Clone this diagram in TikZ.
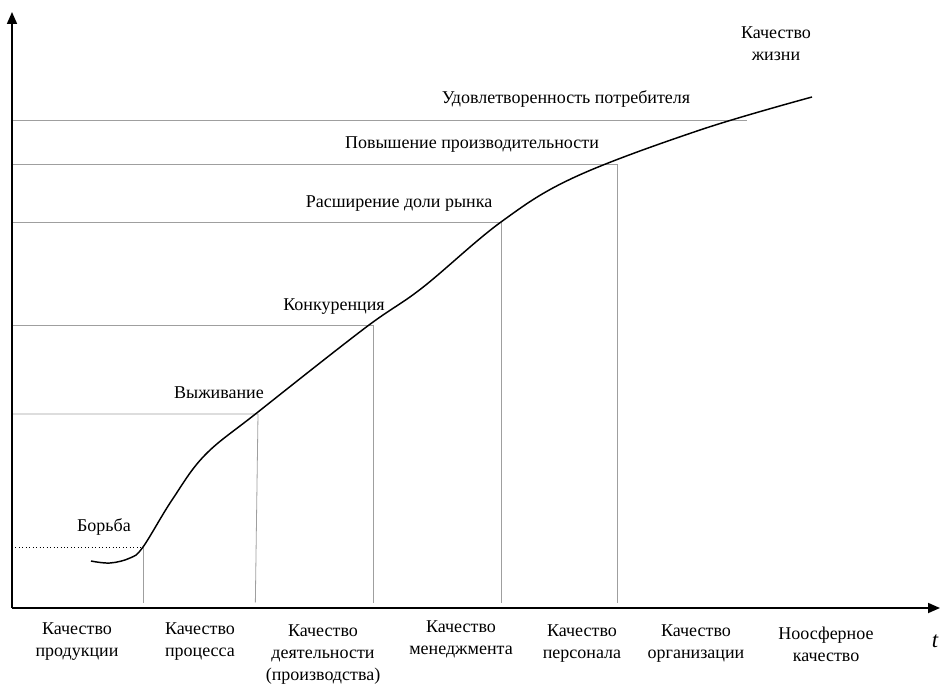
\documentclass[tikz,border=0pt]{standalone}
\usepackage{fontspec}
\setmainfont{Liberation Serif}
\usetikzlibrary{arrows.meta,positioning}
\tikzset{
	axis/.style={line width=1.3pt,-{Triangle[length=9pt,width=7.5pt]}},
	level/.style={gray!75,line width=0.6pt},
	growth/.style={line width=1.1pt,line join=round},
	stage/.style={font=\fontsize{13.5}{16.5}\selectfont,align=center,inner sep=0pt},
}
\begin{document}
\begin{tikzpicture}[x=0.75pt,y=-0.75pt]
	\useasboundingbox (0,0) rectangle (941,688);
	\coordinate (o) at (12,608);
	\coordinate (ytip) at (12,12);
	\coordinate (xtip) at (940,608);
	\coordinate (borba) at (143,547);
	\coordinate (vyzh) at (258,414);
	\coordinate (konk) at (373,325);
	\coordinate (rynok) at (501,222);
	\coordinate (proizv) at (617,164);
	\coordinate (potreb) at (747,120);
	\draw[level,dotted,black] (o |- borba) -- (borba);
	\draw[level] (borba) -- ([yshift=4]borba |- o);
	\draw[level] (o |- vyzh) -- (vyzh) -- ([xshift=-2,yshift=4]vyzh |- o);
	\draw[level] (o |- konk) -- (konk) -- ([yshift=4]konk |- o);
	\draw[level] (o |- rynok) -- (rynok) -- ([yshift=4]rynok |- o);
	\draw[level] (o |- proizv) -- (proizv) -- ([yshift=4]proizv |- o);
	\draw[level] (o |- potreb) -- (potreb);
	\draw[growth] plot[smooth,tension=0.6] coordinates {(91,561) (110,563) (130,558) (borba) (172,500) (205,455) (258,412) (365,328) (422,288) (501,222) (575,177) (700,130) (812,97)};
	\draw[axis] (o) -- (ytip);
	\draw[axis] (o) -- (xtip);
	\node[stage,anchor=base] (lborba) at (104,531) {Борьба};
	\node[stage,anchor=base] (lvyzh) at (219,398) {Выживание};
	\node[stage,anchor=base] (lkonk) at (334,310) {Конкуренция};
	\node[stage,anchor=base] (lrynok) at (399,207) {Расширение доли рынка};
	\node[stage,anchor=base] (lproizv) at (472,148) {Повышение производительности};
	\node[stage,anchor=base] (lpotreb) at (566,104) {Удовлетворенность потребителя};
	\node[stage,anchor=north] (zhizn) at (776,26) {Качество\\жизни};
	\node[stage,anchor=north] (q1) at (77,622) {Качество\\продукции};
	\node[stage,anchor=north] (q2) at (200,622) {Качество\\процесса};
	\node[stage,anchor=north] (q3) at (323,624) {Качество\\деятельности\\(производства)};
	\node[stage,anchor=north] (q4) at (461,620) {Качество\\менеджмента};
	\node[stage,anchor=north] (q5) at (582,624) {Качество\\персонала};
	\node[stage,anchor=north] (q6) at (696,624) {Качество\\организации};
	\node[stage,anchor=north] (q7) at (826,627) {Ноосферное\\качество};
	\node[stage,anchor=base,font=\fontsize{17}{20}\selectfont\itshape] (t) at (935,647) {t};
\end{tikzpicture}
\end{document}
